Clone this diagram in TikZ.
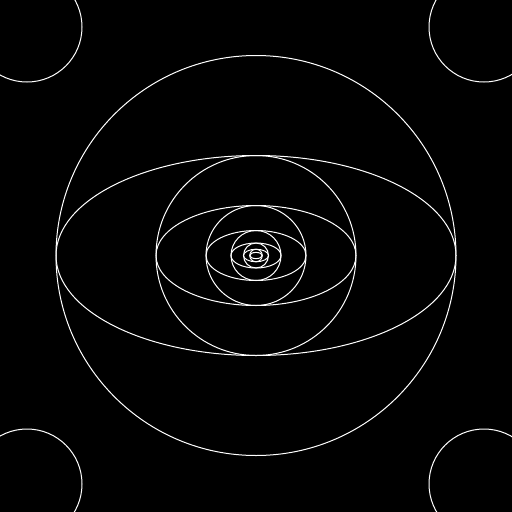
\documentclass[tikz,border=0pt]{standalone}
\usepackage{xcolor}
\usepackage{tikz}

\begin{document}
\begin{tikzpicture}[x=1pt, y=-1pt, line width=1pt,
    ring/.style={draw=white},
    corner/.style={draw=white}]

\fill[black] (0,0) rectangle (512,512);
\useasboundingbox (0,0) rectangle (512,512);

\coordinate (mid) at (256,255.5);

% nested circles and ellipses
\foreach \r in {200,100,50,25,12.5,6.25} {
  \draw[ring] (mid) circle[radius=\r];
  \draw[ring] (mid) ellipse[x radius=\r, y radius=\r/2];
}

% corner circles
\coordinate (tl) at (27,27);
\coordinate (tr) at (484,27);
\coordinate (bl) at (27,484);
\coordinate (br) at (484,484);
\foreach \c in {tl,tr,bl,br}
  \draw[corner] (\c) circle[radius=55];
\end{tikzpicture}
\end{document}
